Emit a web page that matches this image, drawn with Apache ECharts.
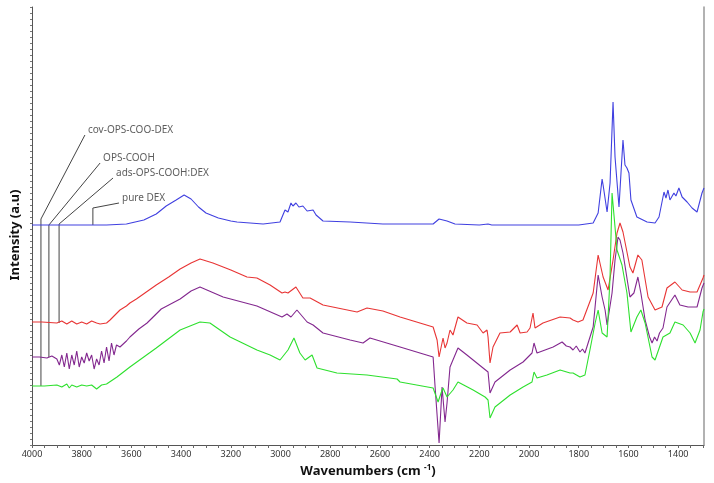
<!DOCTYPE html>
<html>
<head>
<meta charset="utf-8">
<title>FTIR spectra</title>
<script src="https://cdn.jsdelivr.net/npm/echarts@6/dist/echarts.min.js"></script>
<style>
  html, body { margin: 0; padding: 0; background: #fff; }
  #chart { width: 714px; height: 483px; }
</style>
</head>
<body>
<div id="chart"></div>
<script>
// spectra: [wavenumber (cm-1), intensity (a.u.)]
const pureDex = [
  [4000,220],[3900,220],[3800,220],[3700,220],[3620,221],[3550,225],[3500,231],[3460,239],
  [3420,245],[3388,250],[3360,246],[3330,238],[3300,232],[3250,227],[3200,224],[3175,223],
  [3070,221],[3002,223],[2982,235],[2970,233],[2958,242],[2950,239],[2938,242],[2926,238],
  [2910,239],[2893,234],[2869,235],[2857,230],[2829,224],[2720,223],[2588,221],[2500,221],
  [2386,221],[2362,226],[2330,224],[2298,221],[2200,220],[2165,221],[2150,220],[1900,220],
  [1800,220],[1742,222],[1722,232],[1706,266],[1702,260],[1686,233],[1674,262],[1662,343],
  [1654,288],[1638,238],[1630,272],[1622,305],[1614,280],[1606,277],[1598,272],[1590,245],
  [1566,228],[1525,223],[1493,222],[1477,228],[1457,253],[1449,247],[1441,255],[1433,245],
  [1417,252],[1409,249],[1397,257],[1384,248],[1364,243],[1344,237],[1324,233],[1316,235],
  [1304,252],[1296,257]
];
const adsOpsCoohDex = [
  [4000,123],[3960,123],[3900,122],[3880,124],[3860,121],[3840,124],[3820,121],[3800,123],
  [3780,121],[3760,124],[3740,122],[3726,121],[3700,122],[3686,125],[3670,129],[3646,135],
  [3620,139],[3606,142],[3580,146],[3540,153],[3500,160],[3450,168],[3404,176],[3360,182],
  [3324,186],[3272,182],[3200,175],[3135,168],[3095,167],[3042,160],[2994,152],[2982,153],
  [2970,152],[2938,158],[2910,147],[2881,147],[2829,140],[2692,133],[2652,137],[2588,134],
  [2519,128],[2479,125],[2386,118],[2370,105],[2362,88],[2354,90],[2346,107],[2338,97],
  [2330,102],[2318,115],[2306,110],[2286,128],[2250,122],[2209,120],[2185,112],[2169,115],
  [2165,108],[2157,82],[2145,98],[2117,112],[2076,113],[2048,120],[2036,112],[2008,113],
  [1996,117],[1984,132],[1976,117],[1944,122],[1875,128],[1835,127],[1823,125],[1803,123],
  [1783,125],[1742,152],[1722,190],[1702,168],[1682,155],[1662,185],[1646,212],[1634,222],
  [1622,213],[1594,178],[1582,172],[1562,190],[1546,185],[1521,148],[1493,135],[1465,138],
  [1445,157],[1413,163],[1384,155],[1352,153],[1324,153],[1300,167],[1296,170]
];
const opsCooh = [
  [4000,88],[3970,88],[3940,87],[3920,89],[3900,86],[3890,80],[3880,90],[3870,78],
  [3860,92],[3850,76],[3840,90],[3830,80],[3820,94],[3810,78],[3800,88],[3790,82],
  [3780,92],[3770,84],[3760,90],[3750,76],[3740,86],[3730,80],[3720,94],[3710,82],
  [3700,98],[3690,84],[3680,102],[3670,90],[3660,100],[3646,98],[3620,104],[3606,108],
  [3570,116],[3537,122],[3480,136],[3404,146],[3360,154],[3324,158],[3231,148],[3095,139],
  [2994,128],[2974,131],[2958,128],[2934,135],[2893,123],[2869,120],[2829,112],[2720,105],
  [2668,102],[2640,107],[2519,98],[2479,95],[2386,88],[2378,58],[2362,2],[2350,58],
  [2346,57],[2338,23],[2330,42],[2318,78],[2286,97],[2250,90],[2185,77],[2165,73],
  [2157,52],[2137,63],[2076,75],[2024,83],[1988,92],[1980,102],[1968,92],[1903,98],
  [1867,103],[1850,99],[1835,98],[1823,95],[1810,99],[1795,93],[1785,96],[1775,92],
  [1742,118],[1722,170],[1706,148],[1694,135],[1686,120],[1666,152],[1654,185],[1642,208],
  [1634,205],[1622,192],[1594,148],[1578,152],[1562,168],[1550,152],[1533,125],[1515,108],
  [1505,102],[1495,108],[1485,104],[1475,112],[1461,117],[1445,138],[1413,150],[1393,140],
  [1360,138],[1324,138],[1304,157],[1296,162]
];
const covOpsCooDex = [
  [4000,59],[3950,59],[3900,60],[3880,58],[3860,61],[3850,57],[3840,60],[3820,58],
  [3800,60],[3780,59],[3760,60],[3740,56],[3738,57],[3720,60],[3700,61],[3658,68],
  [3606,78],[3500,97],[3404,115],[3324,123],[3284,122],[3203,108],[3095,95],[3042,90],
  [3002,85],[2970,95],[2946,107],[2922,92],[2901,85],[2873,90],[2853,77],[2773,72],
  [2652,70],[2531,66],[2519,63],[2386,57],[2366,43],[2354,52],[2346,57],[2330,48],
  [2306,55],[2286,63],[2225,55],[2177,48],[2165,45],[2157,27],[2137,38],[2076,50],
  [2024,58],[1988,63],[1980,73],[1968,67],[1928,70],[1875,75],[1835,72],[1823,72],
  [1795,68],[1775,70],[1755,95],[1734,122],[1722,135],[1706,112],[1686,108],[1674,168],
  [1666,252],[1646,195],[1626,180],[1606,152],[1590,113],[1566,128],[1550,135],[1533,122],
  [1505,88],[1493,85],[1461,108],[1433,112],[1413,123],[1380,120],[1352,112],[1332,102],
  [1312,115],[1300,133],[1296,136]
];

const seriesNames = ['pure DEX', 'ads-OPS-COOH:DEX', 'OPS-COOH', 'cov-OPS-COO-DEX'];
const seriesData = [pureDex, adsOpsCoohDex, opsCooh, covOpsCooDex];
const seriesColors = ['#4040e0', '#e83535', '#83288f', '#2ee02e'];

// callout leaders: [baseline point, elbow, label point]
const calloutLines = [
  [[3755,220],[3755,237],[3650,242]],
  [[3891,122],[3891,221],[3674,267]],
  [[3932,88],[3932,220],[3726,282]],
  [[3964,59],[3964,226],[3787,310]]
];

const xLabelValues = [4000,3800,3600,3400,3200,3000,2800,2600,2400,2200,2000,1800,1600,1400];
const xTickValues = [];
for (let w = 4000; w >= 1300; w -= 50) xTickValues.push(w);

const chart = echarts.init(document.getElementById('chart'));

const series = seriesData.map((d, i) => ({
  name: seriesNames[i],
  type: 'line',
  data: d,
  showSymbol: false,
  silent: true,
  lineStyle: { color: seriesColors[i], width: 1.1 },
  z: 3
}));

calloutLines.forEach((pts, i) => {
  series.push({
    name: 'leader-' + i,
    type: 'line',
    data: pts,
    showSymbol: false,
    silent: true,
    lineStyle: { color: '#444', width: 1 },
    z: 2
  });
});

// label texts sit just past the leader tips
series.push({
  name: 'callout-labels',
  type: 'scatter',
  silent: true,
  symbolSize: 0,
  data: calloutLines.map((pts, i) => ({ value: pts[2], name: seriesNames[i] })),
  label: {
    show: true,
    position: 'right',
    distance: 3,
    offset: [0, -5],
    formatter: p => p.name,
    color: '#333',
    fontSize: 10,
    fontFamily: 'Noto Sans'
  },
  z: 4
});

const option = {
  animation: false,
  backgroundColor: '#fff',
  grid: {
    left: 32,
    right: 10,
    top: 7,
    bottom: 38,
    containLabel: false,
    outerBoundsMode: 'none'
  },
  xAxis: {
    type: 'value',
    inverse: true,
    min: 1296,
    max: 4000,
    name: '{b|Wavenumbers (cm }{s|-1}{b|)}',
    nameLocation: 'middle',
    nameGap: 16,
    nameTextStyle: {
      rich: {
        b: { fontSize: 13, fontWeight: 'bold', color: '#111', fontFamily: 'Noto Sans' },
        s: { fontSize: 8, fontWeight: 'bold', color: '#111', fontFamily: 'Noto Sans', verticalAlign: 'top', padding: [0, 0, 6, 0] }
      }
    },
    axisLine: { lineStyle: { color: '#555', width: 1 } },
    axisTick: { customValues: xTickValues, length: 3, lineStyle: { color: '#666' } },
    axisLabel: {
      customValues: xLabelValues,
      formatter: v => String(v),
      color: '#333',
      fontSize: 9,
      fontFamily: 'Noto Sans',
      margin: 5
    },
    splitLine: { show: false }
  },
  yAxis: [
    {
      type: 'value',
      min: 0,
      max: 438,
      interval: 6,
      name: 'Intensity (a.u)',
      nameLocation: 'middle',
      nameGap: 10,
      nameTextStyle: { fontSize: 13, fontWeight: 'bold', color: '#111', fontFamily: 'Noto Sans', padding: [0, 18, 0, 0] },
      axisLine: { show: true, lineStyle: { color: '#555', width: 1 } },
      axisTick: { show: true, length: 2, lineStyle: { color: '#777' } },
      axisLabel: { show: false },
      splitLine: { show: false }
    },
    {
      type: 'value',
      position: 'right',
      min: 0,
      max: 438,
      axisLine: { show: true, lineStyle: { color: '#999', width: 1.5 } },
      axisTick: { show: false },
      axisLabel: { show: false },
      splitLine: { show: false }
    }
  ],
  series: series
};

chart.setOption(option);
window.addEventListener('resize', () => chart.resize());
</script>
</body>
</html>
